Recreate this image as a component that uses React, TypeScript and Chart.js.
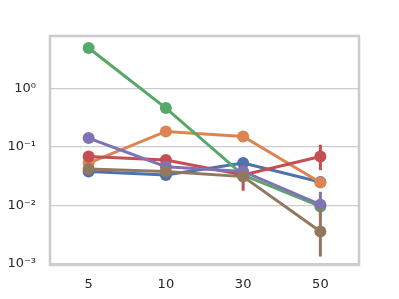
import React, { useEffect, useRef } from "react";
import { Chart, registerables } from "chart.js";

Chart.register(...registerables);

const categories = ["5", "10", "30", "50"];
const yTickValues = [0.001, 0.01, 0.1, 1];
const yTickLabels: Record<string, string> = {
  "0.001": "10\u207B\u00B3",
  "0.01": "10\u207B\u00B2",
  "0.1": "10\u207B\u00B9",
  "1": "10\u2070",
};

const blueVals = [0.038, 0.033, 0.053, 0.025];
const blueLow = [0.036, 0.031, 0.045, 0.022];
const blueHigh = [0.040, 0.036, 0.062, 0.028];

const orangeVals = [0.053, 0.186, 0.152, 0.0245];
const orangeLow = [0.048, 0.175, 0.142, 0.021];
const orangeHigh = [0.058, 0.198, 0.162, 0.028];

const greenVals = [5.1, 0.47, 0.033, 0.0095];
const greenLow = [4.9, 0.45, 0.031, 0.0088];
const greenHigh = [5.3, 0.49, 0.035, 0.0102];

const redVals = [0.069, 0.06, 0.033, 0.069];
const redLow = [0.064, 0.055, 0.0177, 0.04];
const redHigh = [0.074, 0.065, 0.05, 0.11];

const purpleVals = [0.143, 0.046, 0.038, 0.0102];
const purpleLow = [0.135, 0.043, 0.034, 0.006];
const purpleHigh = [0.151, 0.049, 0.042, 0.017];

const brownVals = [0.042, 0.038, 0.031, 0.0035];
const brownLow = [0.040, 0.036, 0.028, 0.0013];
const brownHigh = [0.044, 0.040, 0.034, 0.009];

const series = [
  { name: "blue", color: "#4C72B0", vals: blueVals, low: blueLow, high: blueHigh, order: 5 },
  { name: "orange", color: "#DD8452", vals: orangeVals, low: orangeLow, high: orangeHigh, order: 4 },
  { name: "green", color: "#55A868", vals: greenVals, low: greenLow, high: greenHigh, order: 3 },
  { name: "red", color: "#C44E52", vals: redVals, low: redLow, high: redHigh, order: 2 },
  { name: "purple", color: "#8172B3", vals: purpleVals, low: purpleLow, high: purpleHigh, order: 1 },
  { name: "brown", color: "#937860", vals: brownVals, low: brownLow, high: brownHigh, order: 0 },
];

const errorBarPlugin = {
  id: "errorBars",
  beforeDatasetDraw(chart: any, args: any) {
    const ds = chart.data.datasets[args.index];
    const meta = chart.getDatasetMeta(args.index);
    const y = chart.scales.y;
    const ctx = chart.ctx;
    ctx.save();
    ctx.strokeStyle = ds.borderColor;
    ctx.lineWidth = 3;
    ctx.lineCap = "butt";
    meta.data.forEach((pt: any, i: number) => {
      const lo = ds.errLow[i];
      const hi = ds.errHigh[i];
      ctx.beginPath();
      ctx.moveTo(pt.x, y.getPixelForValue(lo));
      ctx.lineTo(pt.x, y.getPixelForValue(hi));
      ctx.stroke();
    });
    ctx.restore();
  },
};

const framePlugin = {
  id: "frame",
  afterDraw(chart: any) {
    const { left, right, top, bottom } = chart.chartArea;
    const ctx = chart.ctx;
    ctx.save();
    ctx.strokeStyle = "#cccccc";
    ctx.lineWidth = 2.5;
    ctx.strokeRect(left, top, right - left, bottom - top);
    ctx.restore();
  },
};

export default function App() {
  const ref = useRef<HTMLCanvasElement>(null);
  useEffect(() => {
    document.body.style.margin = "0";
    const chart = new Chart(ref.current!, {
      type: "line",
      data: {
        labels: categories,
        datasets: series.map((s) => ({
          label: s.name,
          data: s.vals,
          borderColor: s.color,
          backgroundColor: s.color,
          pointBackgroundColor: s.color,
          pointBorderWidth: 0,
          pointRadius: 6,
          borderWidth: 3,
          tension: 0,
          order: s.order,
          errLow: s.low,
          errHigh: s.high,
        })) as any,
      },
      options: {
        animation: false,
        responsive: false,
        layout: { padding: { top: 36, right: 40, left: 0, bottom: 0 } },
        plugins: { legend: { display: false }, tooltip: { enabled: false } },
        scales: {
          x: {
            type: "category",
            offset: true,
            grid: { display: false, drawTicks: false },
            border: { display: false },
            ticks: {
              color: "#262626",
              font: { family: "DejaVu Sans", size: 13 },
              padding: 12,
            },
            afterFit(scale: any) {
              scale.height = 34;
            },
          },
          y: {
            type: "logarithmic",
            min: 0.00093,
            max: 8.2,
            grid: { color: "#cccccc", lineWidth: 1.2, drawTicks: false },
            border: { display: false },
            afterBuildTicks(scale: any) {
              scale.ticks = yTickValues.map((v) => ({ value: v }));
            },
            ticks: {
              color: "#262626",
              font: { family: "DejaVu Sans", size: 13 },
              padding: 14,
              callback: (v: any) => yTickLabels[String(v)] ?? "",
            },
            afterFit(scale: any) {
              scale.width = 50;
            },
          },
        },
      },
      plugins: [errorBarPlugin, framePlugin],
    });
    return () => chart.destroy();
  }, []);
  return (
    <div style={{ position: "absolute", left: 0, top: 0, width: 399, height: 299 }}>
      <canvas ref={ref} width={399} height={299} style={{ width: 399, height: 299 }} />
    </div>
  );
}
